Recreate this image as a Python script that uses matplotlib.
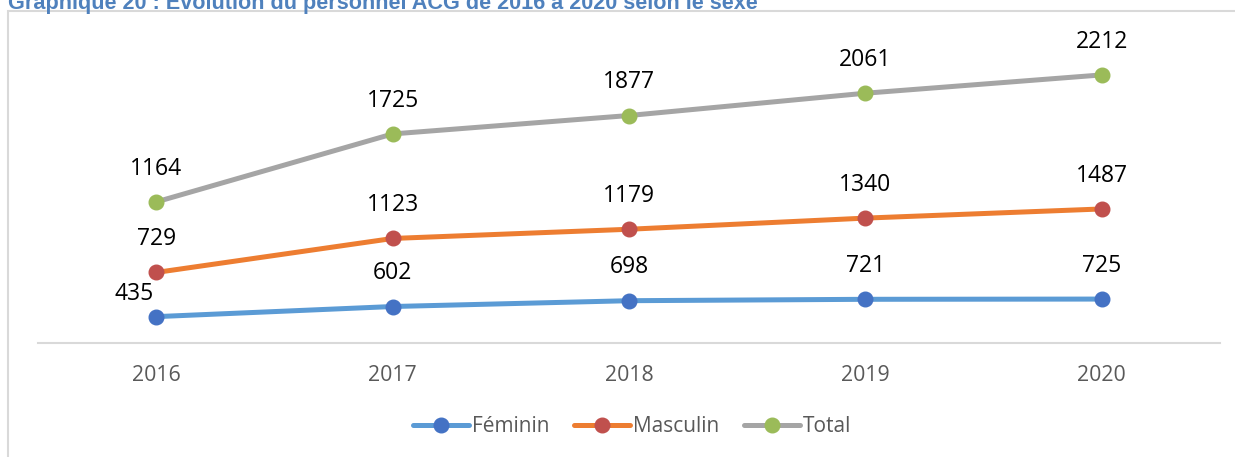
import matplotlib
matplotlib.use("Agg")
import matplotlib.pyplot as plt
from matplotlib.patches import Rectangle
from matplotlib.lines import Line2D
import numpy as np

years = ["2016", "2017", "2018", "2019", "2020"]
feminin = [435, 602, 698, 721, 725]
masculin = [729, 1123, 1179, 1340, 1487]
total = [1164, 1725, 1877, 2061, 2212]
series_names = ["Féminin", "Masculin", "Total"]
line_colors = ["#5B9BD5", "#ED7D31", "#A5A5A5"]
marker_colors = ["#4472C4", "#C0504D", "#9BBB59"]

W, H = 1235, 457
fig = plt.figure(figsize=(W / 100, H / 100), dpi=100)
plt.rcParams['font.family'] = ['Open Sans', 'DejaVu Sans']

# outer frame
fig.patches.append(Rectangle((8 / W, -0.05), 1.1, 1 - 11 / H + 0.05, transform=fig.transFigure,
                             fill=False, edgecolor="#D9D9D9", linewidth=1.5))

fig.text(8 / W, 1 - 9 / H, "Graphique 20 : Evolution du personnel ACG de 2016 à 2020 selon le sexe",
         fontsize=15.6, fontweight="bold", color="#4F81BD", family=["Liberation Sans"],
         ha="left", va="baseline")

ax = fig.add_axes([38 / W, 114 / H, 1182 / W, 303 / H])
x = np.arange(len(years))
data = [np.array(feminin), np.array(masculin), np.array(total)]
stacked = np.cumsum(data, axis=0)

for i in range(3):
    ax.plot(x, stacked[i], color=line_colors[i], linewidth=3.6, marker="o",
            markersize=10.5, markerfacecolor=marker_colors[i], markeredgecolor=marker_colors[i],
            solid_capstyle="round", zorder=3)
    for j in range(len(x)):
        dx, dy = 0, 24
        if i == 0 and j == 0:
            dx, dy = -16, 16.5
        ax.annotate(str(data[i][j]), (x[j], stacked[i][j]), xytext=(dx, dy),
                    textcoords="offset points", ha="center", va="center",
                    fontsize=16.5, color="#000000")

ax.set_xlim(-0.5, len(years) - 0.5)
ax.set_ylim(0, 5000)
ax.set_xticks(x)
ax.set_xticklabels(years, fontsize=15.3, color="#595959")
ax.tick_params(axis="x", length=0, pad=16)
ax.set_yticks([])
for s in ["top", "right", "left"]:
    ax.spines[s].set_visible(False)
ax.spines["bottom"].set_color("#D9D9D9")
ax.spines["bottom"].set_linewidth(1.5)
ax.patch.set_alpha(0)

handles = [Line2D([0], [0], color=line_colors[i], linewidth=3.6, marker="o", markersize=10.5,
                  markerfacecolor=marker_colors[i], markeredgecolor=marker_colors[i],
                  solid_capstyle="round") for i in range(3)]
fig.legend(handles, series_names, loc="center", bbox_to_anchor=(632 / W, 1 - 427 / H), ncol=3,
           frameon=False, fontsize=15, handlelength=2.7, handletextpad=0.12,
           columnspacing=1.2, labelcolor="#595959")

fig.savefig("out.png", dpi=100)
